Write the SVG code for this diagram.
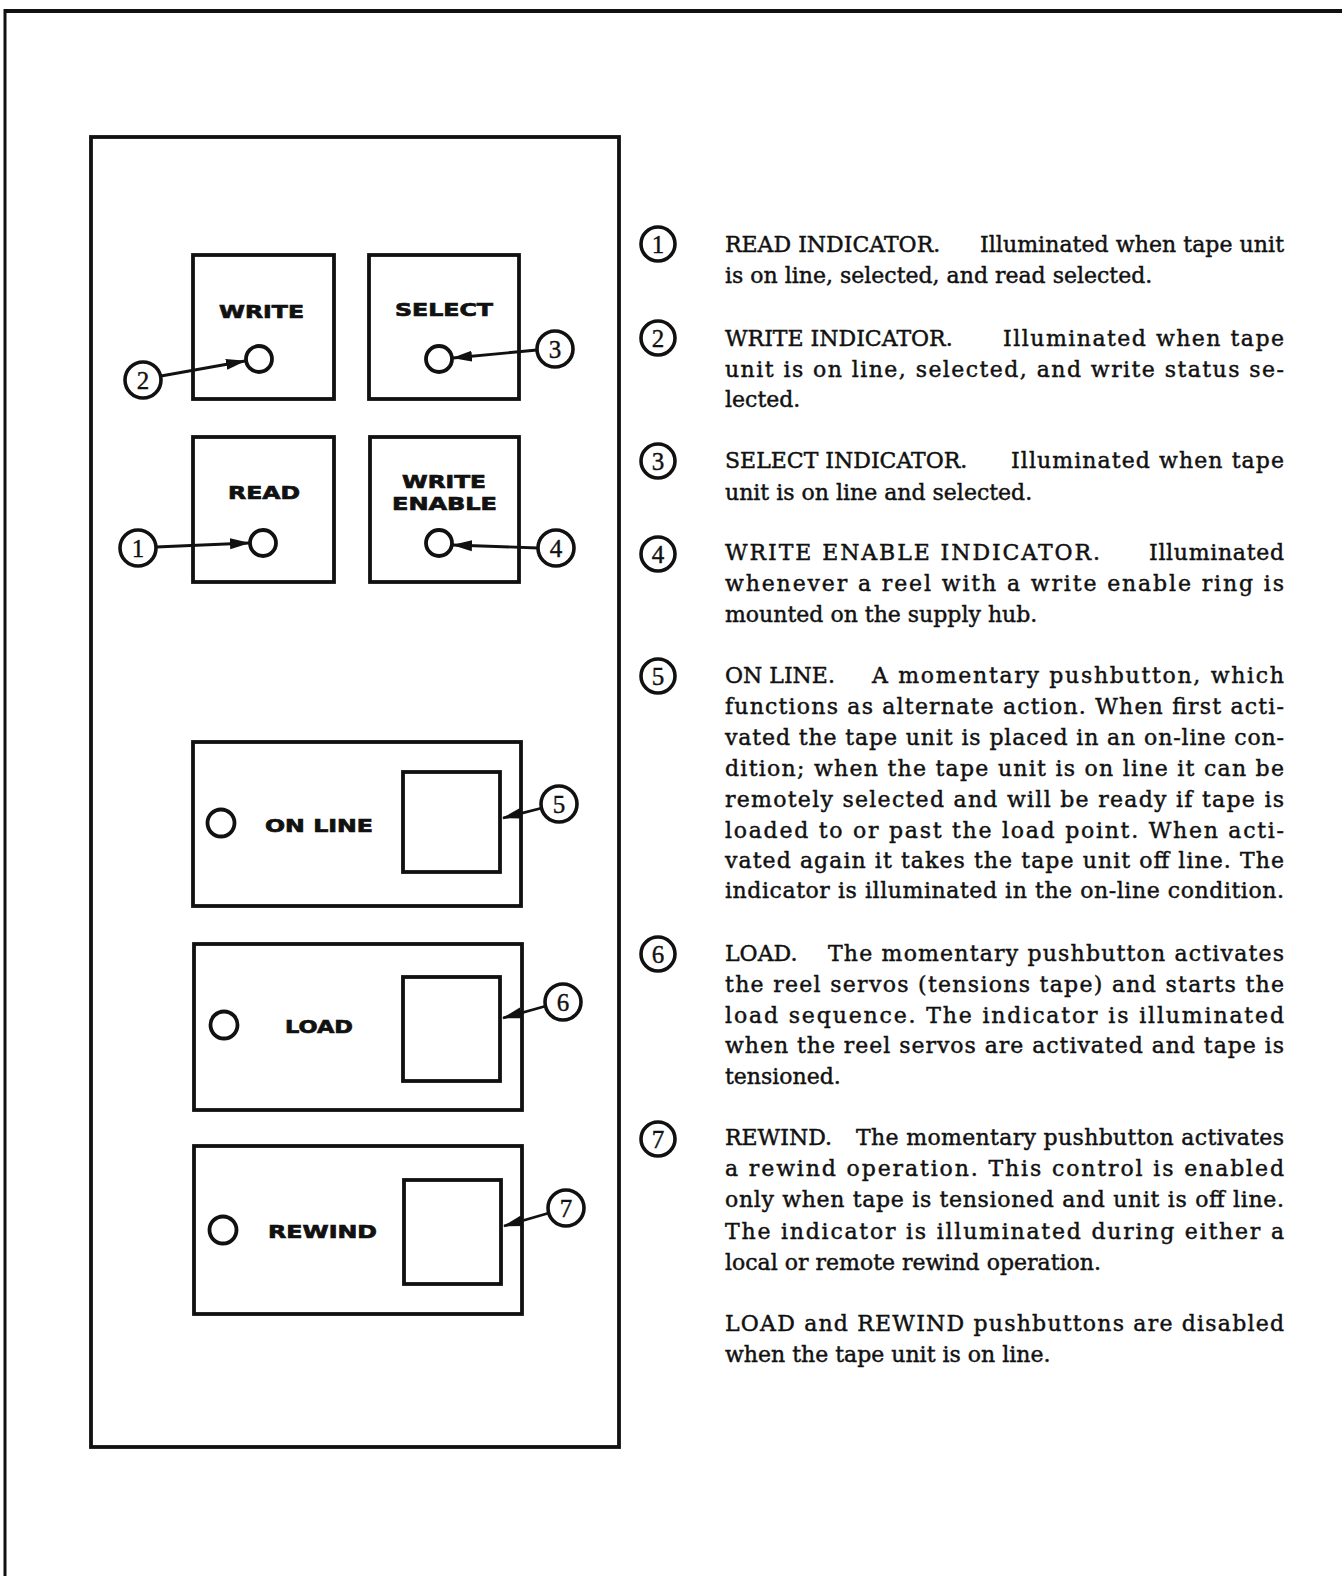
<svg xmlns="http://www.w3.org/2000/svg" width="1342" height="1576" viewBox="0 0 1342 1576">
<style>
.ln{fill:none;stroke:#111;stroke-width:3.8}
.ind{fill:none;stroke:#111;stroke-width:3.8}
.co{fill:#fff;stroke:#111;stroke-width:3.6}
.num{font-family:"Liberation Serif","DejaVu Serif",serif;font-size:25px;fill:#111;stroke:#111;stroke-width:0.4;text-anchor:middle}
.lbl{font-family:"DejaVu Sans","Liberation Sans",sans-serif;font-weight:bold;font-size:18px;fill:#111;stroke:#111;stroke-width:0.7}
.tx{font-family:"DejaVu Serif","Liberation Serif",serif;font-size:22px;fill:#111;stroke:#111;stroke-width:0.45}
.ar{fill:none;stroke:#111;stroke-width:2.8}
</style>
<defs>
<marker id="ah" markerUnits="userSpaceOnUse" markerWidth="22" markerHeight="12" refX="19" refY="6" orient="auto">
<path d="M0,0.5 L20,6 L0,11.5 z" fill="#111"/>
</marker>
</defs>
<rect width="1342" height="1576" fill="#fff"/>
<g id="page-border">
<line x1="5" y1="11" x2="1342" y2="11" stroke="#111" stroke-width="4"/>
<line x1="5" y1="9" x2="5" y2="1576" stroke="#111" stroke-width="3"/>
</g>
<g id="panel"><rect class="ln" x="91" y="137" width="528" height="1310"/></g>
<g id="write"><rect class="ln" x="193" y="255" width="141" height="144"/><text class="lbl" x="219" y="318" textLength="85" lengthAdjust="spacingAndGlyphs">WRITE</text><circle class="ind" cx="259" cy="359" r="13"/></g>
<g id="select"><rect class="ln" x="369" y="255" width="150" height="144"/><text class="lbl" x="395" y="316" textLength="98" lengthAdjust="spacingAndGlyphs">SELECT</text><circle class="ind" cx="439" cy="359" r="13"/></g>
<g id="read"><rect class="ln" x="193" y="437" width="141" height="145"/><text class="lbl" x="228" y="499" textLength="72" lengthAdjust="spacingAndGlyphs">READ</text><circle class="ind" cx="263" cy="543" r="13"/></g>
<g id="write-enable"><rect class="ln" x="370" y="437" width="149" height="145"/><text class="lbl" x="402" y="488" textLength="84" lengthAdjust="spacingAndGlyphs">WRITE</text><text class="lbl" x="392" y="510" textLength="105" lengthAdjust="spacingAndGlyphs">ENABLE</text><circle class="ind" cx="439" cy="543" r="13"/></g>
<g id="on-line"><rect class="ln" x="193" y="742" width="328" height="164"/><rect class="ln" x="403" y="772" width="97" height="100"/><text class="lbl" x="265" y="832" textLength="108" lengthAdjust="spacingAndGlyphs">ON LINE</text><circle class="ind" cx="221" cy="823" r="13.5"/></g>
<g id="load"><rect class="ln" x="194" y="944" width="328" height="166"/><rect class="ln" x="403" y="977" width="97" height="104"/><text class="lbl" x="285" y="1033" textLength="68" lengthAdjust="spacingAndGlyphs">LOAD</text><circle class="ind" cx="224" cy="1025" r="13.5"/></g>
<g id="rewind"><rect class="ln" x="194" y="1146" width="328" height="168"/><rect class="ln" x="404" y="1180" width="97" height="104"/><text class="lbl" x="268" y="1238" textLength="109" lengthAdjust="spacingAndGlyphs">REWIND</text><circle class="ind" cx="223" cy="1230" r="13.5"/></g>
<g id="connectors">
<line class="ar" x1="161" y1="376" x2="245" y2="361" marker-end="url(#ah)"/>
<line class="ar" x1="537" y1="350" x2="453" y2="358" marker-end="url(#ah)"/>
<line class="ar" x1="156" y1="547" x2="249" y2="543" marker-end="url(#ah)"/>
<line class="ar" x1="538" y1="548" x2="453" y2="545" marker-end="url(#ah)"/>
<line class="ar" x1="542" y1="808" x2="503" y2="818" marker-end="url(#ah)"/>
<line class="ar" x1="546" y1="1006" x2="503" y2="1018" marker-end="url(#ah)"/>
<line class="ar" x1="549" y1="1213" x2="504" y2="1226" marker-end="url(#ah)"/>
</g>
<g id="callout-1"><circle class="co" cx="138" cy="548" r="18"/><text class="num" x="138" y="557">1</text></g>
<g id="callout-2"><circle class="co" cx="143" cy="380" r="18"/><text class="num" x="143" y="389">2</text></g>
<g id="callout-3"><circle class="co" cx="555" cy="349" r="18"/><text class="num" x="555" y="358">3</text></g>
<g id="callout-4"><circle class="co" cx="556" cy="548" r="18"/><text class="num" x="556" y="557">4</text></g>
<g id="callout-5"><circle class="co" cx="559" cy="804" r="18"/><text class="num" x="559" y="813">5</text></g>
<g id="callout-6"><circle class="co" cx="563" cy="1002" r="18"/><text class="num" x="563" y="1011">6</text></g>
<g id="callout-7"><circle class="co" cx="566" cy="1208" r="18"/><text class="num" x="566" y="1217">7</text></g>
<g id="legend-1"><circle class="co" cx="658" cy="244" r="17"/><text class="num" x="658" y="253">1</text>
<text class="tx" x="725" y="252">READ INDICATOR.</text><text class="tx" x="980" y="252" textLength="304">Illuminated when tape unit</text>
<text class="tx" x="725" y="283">is on line, selected, and read selected.</text></g>
<g id="legend-2"><circle class="co" cx="658" cy="338" r="17"/><text class="num" x="658" y="347">2</text>
<text class="tx" x="725" y="346">WRITE INDICATOR.</text><text class="tx" x="1003" y="346" textLength="281">Illuminated when tape</text>
<text class="tx" x="725" y="377" textLength="559">unit is on line, selected, and write status se-</text>
<text class="tx" x="725" y="407">lected.</text></g>
<g id="legend-3"><circle class="co" cx="658" cy="461" r="17"/><text class="num" x="658" y="470">3</text>
<text class="tx" x="725" y="468">SELECT INDICATOR.</text><text class="tx" x="1011" y="468" textLength="273">Illuminated when tape</text>
<text class="tx" x="725" y="500">unit is on line and selected.</text></g>
<g id="legend-4"><circle class="co" cx="658" cy="554" r="17"/><text class="num" x="658" y="563">4</text>
<text class="tx" x="725" y="560" textLength="375">WRITE ENABLE INDICATOR.</text><text class="tx" x="1149" y="560" textLength="135">Illuminated</text>
<text class="tx" x="725" y="591" textLength="559">whenever a reel with a write enable ring is</text>
<text class="tx" x="725" y="622">mounted on the supply hub.</text></g>
<g id="legend-5"><circle class="co" cx="658" cy="676" r="17"/><text class="num" x="658" y="685">5</text>
<text class="tx" x="725" y="683">ON LINE.</text><text class="tx" x="872" y="683" textLength="412">A momentary pushbutton, which</text>
<text class="tx" x="725" y="714" textLength="559">functions as alternate action. When first acti-</text>
<text class="tx" x="725" y="745" textLength="559">vated the tape unit is placed in an on-line con-</text>
<text class="tx" x="725" y="776" textLength="559">dition; when the tape unit is on line it can be</text>
<text class="tx" x="725" y="807" textLength="559">remotely selected and will be ready if tape is</text>
<text class="tx" x="725" y="838" textLength="559">loaded to or past the load point. When acti-</text>
<text class="tx" x="725" y="868" textLength="559">vated again it takes the tape unit off line. The</text>
<text class="tx" x="725" y="898" textLength="559">indicator is illuminated in the on-line condition.</text></g>
<g id="legend-6"><circle class="co" cx="658" cy="954" r="17"/><text class="num" x="658" y="963">6</text>
<text class="tx" x="725" y="961">LOAD.</text><text class="tx" x="828" y="961" textLength="456">The momentary pushbutton activates</text>
<text class="tx" x="725" y="992" textLength="559">the reel servos (tensions tape) and starts the</text>
<text class="tx" x="725" y="1023" textLength="559">load sequence. The indicator is illuminated</text>
<text class="tx" x="725" y="1053" textLength="559">when the reel servos are activated and tape is</text>
<text class="tx" x="725" y="1084">tensioned.</text></g>
<g id="legend-7"><circle class="co" cx="658" cy="1139" r="17"/><text class="num" x="658" y="1148">7</text>
<text class="tx" x="725" y="1145">REWIND.</text><text class="tx" x="856" y="1145" textLength="428">The momentary pushbutton activates</text>
<text class="tx" x="725" y="1176" textLength="559">a rewind operation. This control is enabled</text>
<text class="tx" x="725" y="1207" textLength="559">only when tape is tensioned and unit is off line.</text>
<text class="tx" x="725" y="1239" textLength="559">The indicator is illuminated during either a</text>
<text class="tx" x="725" y="1270">local or remote rewind operation.</text></g>
<g id="note">
<text class="tx" x="725" y="1331" textLength="559">LOAD and REWIND pushbuttons are disabled</text>
<text class="tx" x="725" y="1362">when the tape unit is on line.</text></g>
</svg>
